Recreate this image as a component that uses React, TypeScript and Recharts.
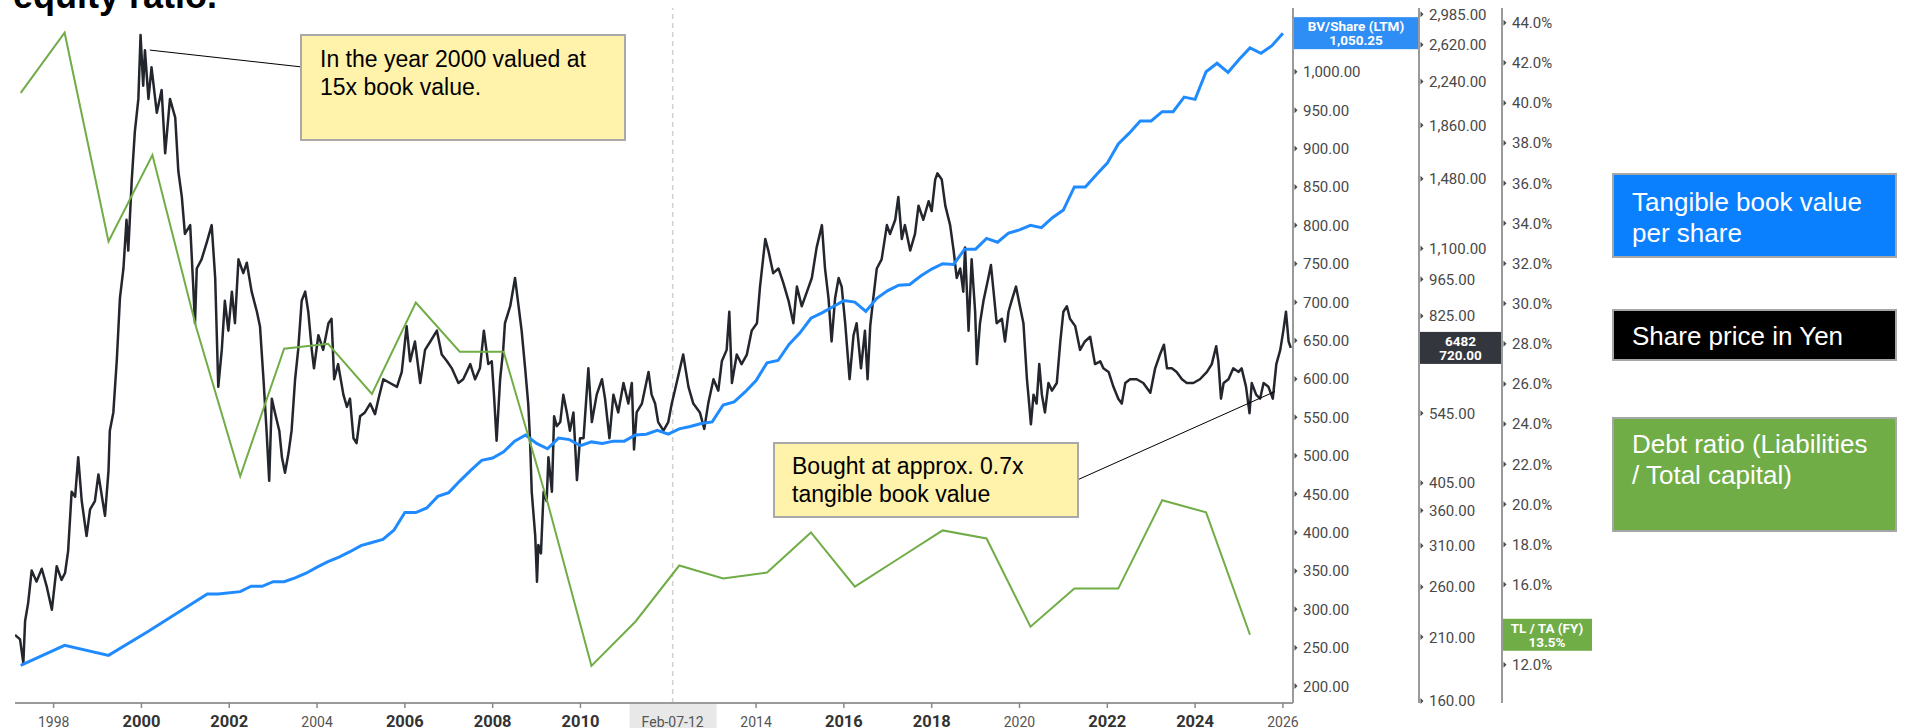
import React from "react";
import {
  ComposedChart,
  Line,
  XAxis,
  YAxis,
  ReferenceLine,
} from "recharts";

// share price in yen, [decimal year, price]
const sharePrice: [number, number][] = [
  [1997.12, 212], [1997.235, 208], [1997.31, 188], [1997.35, 225], [1997.42, 243],
  [1997.5, 279], [1997.61, 266], [1997.73, 281], [1997.84, 261], [1997.96, 236],
  [1998.07, 284], [1998.18, 268], [1998.26, 276], [1998.33, 303], [1998.41, 390],
  [1998.49, 382], [1998.56, 452], [1998.64, 375], [1998.75, 323], [1998.83, 362],
  [1998.94, 375], [1999.02, 420], [1999.17, 352], [1999.25, 427], [1999.28, 506],
  [1999.36, 547], [1999.44, 686], [1999.51, 890], [1999.59, 1010], [1999.66, 1243],
  [1999.7, 1090], [1999.78, 1475], [1999.85, 1810], [1999.93, 2080], [1999.98, 2730],
  [2000.04, 2200], [2000.08, 2560], [2000.16, 2080], [2000.23, 2380], [2000.35, 1960],
  [2000.46, 2160], [2000.54, 1650], [2000.65, 2080], [2000.77, 1920], [2000.84, 1530],
  [2000.92, 1370], [2000.99, 1170], [2001.11, 1215], [2001.18, 935], [2001.22, 800],
  [2001.26, 1010], [2001.37, 1050], [2001.49, 1130], [2001.6, 1215], [2001.68, 970],
  [2001.75, 610], [2001.83, 714], [2001.9, 880], [2001.98, 775], [2002.06, 915],
  [2002.13, 800], [2002.21, 1050], [2002.32, 990], [2002.4, 1035], [2002.51, 915],
  [2002.63, 840], [2002.7, 790], [2002.78, 630], [2002.85, 506], [2002.91, 409],
  [2002.97, 580], [2003.04, 547], [2003.14, 506], [2003.2, 452], [2003.27, 423],
  [2003.35, 460], [2003.42, 506], [2003.5, 630], [2003.57, 714], [2003.65, 880],
  [2003.73, 915], [2003.8, 840], [2003.88, 714], [2003.93, 660], [2004.03, 760],
  [2004.14, 714], [2004.26, 800], [2004.33, 815], [2004.39, 630], [2004.48, 672],
  [2004.6, 590], [2004.68, 560], [2004.75, 580], [2004.83, 490], [2004.9, 480],
  [2004.98, 538], [2005.09, 547], [2005.21, 568], [2005.32, 543], [2005.4, 580],
  [2005.51, 630], [2005.66, 620], [2005.82, 610], [2005.93, 650], [2006.04, 790],
  [2006.12, 680], [2006.23, 740], [2006.35, 620], [2006.46, 714], [2006.58, 740],
  [2006.73, 775], [2006.84, 700], [2006.96, 680], [2007.07, 660], [2007.22, 620],
  [2007.33, 630], [2007.49, 672], [2007.6, 630], [2007.71, 660], [2007.8, 775],
  [2007.9, 672], [2007.98, 680], [2008.03, 590], [2008.09, 485], [2008.17, 630],
  [2008.24, 714], [2008.28, 800], [2008.4, 860], [2008.51, 970], [2008.59, 860],
  [2008.66, 775], [2008.74, 660], [2008.81, 568], [2008.85, 490], [2008.89, 390],
  [2008.97, 323], [2009.01, 266], [2009.04, 311], [2009.1, 300], [2009.16, 390],
  [2009.23, 375], [2009.27, 452], [2009.35, 390], [2009.4, 538], [2009.46, 516],
  [2009.54, 525], [2009.61, 590], [2009.69, 547], [2009.76, 506], [2009.84, 547],
  [2009.92, 410], [2009.99, 490], [2010.07, 490], [2010.18, 660], [2010.26, 525],
  [2010.37, 590], [2010.49, 630], [2010.56, 580], [2010.66, 490], [2010.75, 590],
  [2010.86, 547], [2010.98, 620], [2011.09, 568], [2011.17, 620], [2011.22, 467],
  [2011.28, 547], [2011.4, 568], [2011.55, 650], [2011.62, 590], [2011.7, 568],
  [2011.77, 525], [2011.89, 506], [2012.0, 525], [2012.08, 568], [2012.19, 620],
  [2012.34, 700], [2012.46, 610], [2012.57, 568], [2012.72, 547], [2012.82, 510],
  [2012.91, 568], [2013.03, 630], [2013.14, 600], [2013.22, 680], [2013.33, 714],
  [2013.39, 840], [2013.45, 620], [2013.56, 700], [2013.67, 672], [2013.79, 700],
  [2013.9, 775], [2014.02, 800], [2014.09, 935], [2014.21, 1145], [2014.28, 1090],
  [2014.39, 990], [2014.51, 1010], [2014.62, 950], [2014.74, 880], [2014.85, 800],
  [2014.93, 935], [2015.04, 860], [2015.16, 915], [2015.27, 970], [2015.38, 1105],
  [2015.5, 1215], [2015.57, 1010], [2015.65, 890], [2015.72, 740], [2015.8, 890],
  [2015.88, 970], [2015.95, 935], [2016.03, 800], [2016.13, 630], [2016.22, 760],
  [2016.29, 800], [2016.39, 660], [2016.48, 775], [2016.54, 630], [2016.6, 790],
  [2016.67, 890], [2016.75, 1010], [2016.86, 1050], [2016.98, 1215], [2017.05, 1170],
  [2017.17, 1243], [2017.24, 1370], [2017.32, 1145], [2017.39, 1215], [2017.51, 1090],
  [2017.62, 1170], [2017.7, 1320], [2017.81, 1243], [2017.93, 1345], [2018.0, 1290],
  [2018.08, 1475], [2018.13, 1515], [2018.23, 1475], [2018.31, 1320], [2018.42, 1215],
  [2018.5, 1090], [2018.57, 970], [2018.65, 1010], [2018.72, 915], [2018.76, 1105],
  [2018.84, 775], [2018.91, 1050], [2018.99, 840], [2019.03, 672], [2019.1, 800],
  [2019.18, 880], [2019.29, 970], [2019.35, 1025], [2019.41, 915], [2019.48, 800],
  [2019.6, 815], [2019.67, 740], [2019.75, 840], [2019.82, 880], [2019.92, 935],
  [2020.01, 860], [2020.09, 800], [2020.17, 630], [2020.22, 568], [2020.26, 520],
  [2020.32, 590], [2020.39, 568], [2020.45, 672], [2020.51, 590], [2020.58, 547],
  [2020.66, 620], [2020.74, 600], [2020.85, 620], [2020.93, 740], [2021.0, 840],
  [2021.08, 860], [2021.15, 815], [2021.27, 790], [2021.38, 714], [2021.49, 740],
  [2021.61, 755], [2021.72, 672], [2021.84, 680], [2021.91, 660], [2022.03, 650],
  [2022.14, 610], [2022.25, 580], [2022.33, 568], [2022.41, 620], [2022.52, 630],
  [2022.67, 630], [2022.82, 620], [2022.98, 595], [2023.09, 660], [2023.2, 700],
  [2023.29, 730], [2023.36, 660], [2023.47, 660], [2023.58, 650], [2023.7, 630],
  [2023.81, 620], [2023.96, 620], [2024.11, 630], [2024.27, 650], [2024.38, 672],
  [2024.48, 725], [2024.53, 680], [2024.59, 580], [2024.65, 620], [2024.76, 630],
  [2024.87, 660], [2024.99, 650], [2025.06, 660], [2025.16, 610], [2025.24, 545],
  [2025.29, 620], [2025.39, 590], [2025.48, 580], [2025.56, 620], [2025.67, 610],
  [2025.77, 580], [2025.85, 672], [2025.94, 714], [2026.01, 775], [2026.07, 840],
  [2026.13, 740], [2026.18, 720],
];

// tangible book value per share (LTM)
const bookValue: [number, number][] = [
  [1997.25, 227], [1998.25, 253], [1999.25, 240], [2000.15, 271], [2001.5, 320],
  [2001.75, 320], [2002.25, 323], [2002.5, 330], [2002.75, 330], [2003.0, 336],
  [2003.25, 336], [2003.5, 341], [2003.75, 347], [2004.0, 355], [2004.25, 362],
  [2004.5, 368], [2004.75, 375], [2005.0, 383], [2005.25, 387], [2005.5, 391],
  [2005.75, 403], [2006.0, 426], [2006.25, 426], [2006.5, 432], [2006.75, 447],
  [2007.0, 452], [2007.25, 467], [2007.5, 481], [2007.75, 494], [2008.0, 497],
  [2008.25, 505], [2008.5, 519], [2008.75, 527], [2009.0, 516], [2009.25, 509],
  [2009.5, 523], [2009.75, 521], [2010.0, 513], [2010.25, 518], [2010.5, 516],
  [2010.75, 519], [2011.0, 519], [2011.25, 527], [2011.5, 528], [2011.75, 533],
  [2012.0, 528], [2012.25, 535], [2012.5, 538], [2012.75, 542], [2013.0, 544],
  [2013.25, 566], [2013.5, 570], [2013.75, 583], [2014.0, 598], [2014.25, 621],
  [2014.5, 624], [2014.75, 645], [2015.0, 660], [2015.25, 679], [2015.5, 686],
  [2015.75, 694], [2016.0, 702], [2016.25, 700], [2016.5, 688], [2016.75, 705],
  [2017.0, 715], [2017.25, 722], [2017.5, 723], [2017.75, 734], [2018.0, 743],
  [2018.25, 750], [2018.5, 749], [2018.75, 769], [2019.0, 769], [2019.25, 783],
  [2019.5, 778], [2019.75, 790], [2020.0, 794], [2020.25, 800], [2020.5, 797],
  [2020.75, 810], [2021.0, 820], [2021.25, 850], [2021.5, 850], [2021.75, 866],
  [2022.0, 881], [2022.25, 906], [2022.5, 920], [2022.75, 936], [2023.0, 936],
  [2023.25, 948], [2023.5, 948], [2023.75, 967], [2024.0, 964], [2024.25, 1000],
  [2024.5, 1011], [2024.75, 999], [2025.0, 1016], [2025.25, 1031], [2025.5, 1024],
  [2025.75, 1034], [2026.0, 1050.25],
];

// total liabilities / total assets, fiscal years ending March
const debtRatio: [number, number][] = [
  [1997.25, 40.5], [1998.25, 43.5], [1999.25, 33.1], [2000.25, 37.4], [2001.25, 28.8],
  [2002.25, 21.4], [2003.25, 27.75], [2004.25, 28.0], [2005.25, 25.5], [2006.25, 30.05],
  [2007.25, 27.6], [2008.25, 27.6], [2009.25, 20.1], [2010.25, 11.95], [2011.25, 14.15],
  [2012.25, 16.95], [2013.25, 16.3], [2014.25, 16.6], [2015.25, 18.6], [2016.25, 15.9],
  [2017.25, 17.3], [2018.25, 18.7], [2019.25, 18.3], [2020.25, 13.9], [2021.25, 15.8],
  [2022.25, 15.8], [2023.25, 20.2], [2024.25, 19.6], [2025.25, 13.5],
];

const yearTicks = [1998, 2000, 2002, 2004, 2006, 2008, 2010, 2014, 2016, 2018, 2020, 2022, 2024, 2026];
const boldYears = [2000, 2002, 2006, 2008, 2010, 2016, 2018, 2022, 2024];
const bvTicks = [200, 250, 300, 350, 400, 450, 500, 550, 600, 650, 700, 750, 800, 850, 900, 950, 1000];
const priceTicks = [160, 210, 260, 310, 360, 405, 545, 825, 965, 1100, 1480, 1860, 2240, 2620, 2985];
const debtTicks = [12, 16, 18, 20, 22, 24, 26, 28, 30, 32, 34, 36, 38, 40, 42, 44];

const crosshairDate = 2012.1;
const crosshairLabel = "Feb-07-12";
const tickerCode = "6482";

const priceData = sharePrice.map(([t, v]) => ({ t, v }));
const bvData = bookValue.map(([t, v]) => ({ t, v }));
const debtData = debtRatio.map(([t, v]) => ({ t, v }));

const lastPrice = sharePrice[sharePrice.length - 1];
const lastBv = bookValue[bookValue.length - 1];
const lastDebt = debtRatio[debtRatio.length - 1];

const money = (v: number) =>
  v.toLocaleString("en-US", { minimumFractionDigits: 2, maximumFractionDigits: 2 });
const pct = (v: number) => `${v.toFixed(1)}%`;

// axis ids sort in the order the right-hand axes are stacked
const AX_BV = "y1";
const AX_PRICE = "y2";
const AX_DEBT = "y3";

const AXIS_GREY = "#9a9a9a";
const BV_W = 126;
const PRICE_W = 83;
const DEBT_W = 98;

function YearTick(props: any) {
  const { x, y, payload } = props;
  const bold = boldYears.includes(payload.value);
  return (
    <g>
      <line x1={x} x2={x} y1={y} y2={y + 5} stroke="#888" strokeWidth={1.5} />
      <text
        x={x}
        y={y + 24}
        textAnchor="middle"
        fontFamily="Roboto, sans-serif"
        fontSize={bold ? 16.5 : 14}
        fontWeight={bold ? 700 : 400}
        fill={bold ? "#333" : "#555"}
      >
        {payload.value}
      </text>
    </g>
  );
}

const rightTick = (fmt: (v: number) => string) => (props: any) => {
  const { x, y, payload } = props;
  return (
    <g>
      <path d={`M${x + 1.5},${y - 3} L${x + 4.5},${y} L${x + 1.5},${y + 3} Z`} fill="#4a4a4a" />
      <text x={x + 10} y={y} dy="0.36em" fontFamily="Roboto, sans-serif" fontSize={15} fill="#484848">
        {fmt(payload.value)}
      </text>
    </g>
  );
};

// coloured value tag sitting on one of the right-hand axes
function valueTag(offset: number, width: number, fill: string, lines: string[]) {
  return (props: any) => {
    const { viewBox } = props;
    const left = viewBox.x + viewBox.width + offset;
    const cy = viewBox.y;
    return (
      <g>
        <rect x={left} y={cy - 16} width={width} height={32} fill={fill} />
        {lines.map((s, i) => (
          <text
            key={i}
            x={left + width / 2}
            y={cy + (i === 0 ? -7 : 7)}
            dy="0.36em"
            textAnchor="middle"
            fontFamily="Roboto, sans-serif"
            fontWeight={700}
            fontSize={13.5}
            fill="#fff"
          >
            {s}
          </text>
        ))}
      </g>
    );
  };
}

function CrosshairTag(props: any) {
  const { viewBox } = props;
  const x = viewBox.x;
  const bottom = viewBox.y + viewBox.height;
  return (
    <g>
      <rect x={x - 43} y={bottom + 1} width={87} height={30} fill="#e8e8e8" />
      <text x={x} y={bottom + 24} textAnchor="middle" fontFamily="Roboto, sans-serif" fontSize={14} fill="#555">
        {crosshairLabel}
      </text>
    </g>
  );
}

const noteBox: React.CSSProperties = {
  position: "absolute",
  boxSizing: "border-box",
  background: "#fff2ab",
  border: "2px solid #a9a9a9",
  fontFamily: "'Liberation Sans', Arial, sans-serif",
  fontSize: 23,
  lineHeight: "28px",
  color: "#000",
};

const legendBox: React.CSSProperties = {
  position: "absolute",
  left: 1612,
  width: 285,
  boxSizing: "border-box",
  border: "2px solid #a6a6a6",
  paddingLeft: 18,
  fontFamily: "'Liberation Sans', Arial, sans-serif",
  fontSize: 26,
  lineHeight: "31px",
  color: "#fff",
};

export default function App() {
  return (
    <div style={{ position: "fixed", left: 0, top: 0, width: 1906, height: 728, overflow: "hidden", background: "#fff" }}>
      <div
        style={{
          position: "absolute",
          left: 13,
          top: -22,
          fontFamily: "'Liberation Sans', Arial, sans-serif",
          fontWeight: 700,
          fontSize: 36,
          lineHeight: "36px",
          color: "#000",
          whiteSpace: "nowrap",
        }}
      >
        equity ratio.
      </div>

      <div style={{ position: "absolute", left: 0, top: 0 }}>
        <ComposedChart width={1600} height={745} margin={{ top: 8, right: 0, bottom: 0, left: 15 }}>
          <XAxis
            dataKey="t"
            type="number"
            domain={[1997.12, 2026.23]}
            allowDataOverflow
            ticks={yearTicks}
            interval={0}
            tick={<YearTick />}
            tickLine={false}
            tickSize={0}
            tickMargin={0}
            height={42}
            axisLine={{ stroke: AXIS_GREY, strokeWidth: 2 }}
          />
          <YAxis
            yAxisId={AX_BV}
            orientation="right"
            width={BV_W}
            domain={[178, 1083]}
            allowDataOverflow
            ticks={bvTicks}
            interval={0}
            tick={rightTick(money)}
            tickLine={false}
            tickSize={0}
            tickMargin={0}
            axisLine={{ stroke: AXIS_GREY, strokeWidth: 2 }}
          />
          <YAxis
            yAxisId={AX_PRICE}
            orientation="right"
            width={PRICE_W}
            scale="log"
            domain={[158.6, 3064]}
            allowDataOverflow
            ticks={priceTicks}
            interval={0}
            tick={rightTick(money)}
            tickLine={false}
            tickSize={0}
            tickMargin={0}
            axisLine={{ stroke: AXIS_GREY, strokeWidth: 2 }}
          />
          <YAxis
            yAxisId={AX_DEBT}
            orientation="right"
            width={DEBT_W}
            domain={[10.1, 44.73]}
            allowDataOverflow
            ticks={debtTicks}
            interval={0}
            tick={rightTick(pct)}
            tickLine={false}
            tickSize={0}
            tickMargin={0}
            axisLine={{ stroke: AXIS_GREY, strokeWidth: 2 }}
          />

          <ReferenceLine
            x={crosshairDate}
            yAxisId={AX_PRICE}
            stroke="#cfcfcf"
            strokeWidth={1.5}
            strokeDasharray="5 4"
            label={(p: any) => <CrosshairTag {...p} />}
          />

          <Line
            yAxisId={AX_PRICE}
            data={priceData}
            dataKey="v"
            type="linear"
            stroke="#23262d"
            strokeWidth={2.5}
            strokeLinejoin="round"
            dot={false}
            isAnimationActive={false}
          />
          <Line
            yAxisId={AX_BV}
            data={bvData}
            dataKey="v"
            type="linear"
            stroke="#1f8bff"
            strokeWidth={3}
            dot={false}
            isAnimationActive={false}
          />
          <Line
            yAxisId={AX_DEBT}
            data={debtData}
            dataKey="v"
            type="linear"
            stroke="#70ad47"
            strokeWidth={2}
            dot={false}
            isAnimationActive={false}
          />

          {/* leader lines from the notes to the share price */}
          <ReferenceLine
            yAxisId={AX_PRICE}
            segment={[{ x: 2000.19, y: 2561 }, { x: 2003.62, y: 2385 }]}
            stroke="#000"
            strokeWidth={1}
          />
          <ReferenceLine
            yAxisId={AX_PRICE}
            segment={[{ x: 2021.34, y: 411 }, { x: 2025.82, y: 598 }]}
            stroke="#000"
            strokeWidth={1}
          />

          <ReferenceLine
            yAxisId={AX_BV}
            y={lastBv[1]}
            stroke="none"
            label={valueTag(0, BV_W, "#2f8ef5", ["BV/Share (LTM)", money(lastBv[1])])}
          />
          <ReferenceLine
            yAxisId={AX_PRICE}
            y={lastPrice[1]}
            stroke="none"
            label={valueTag(BV_W, PRICE_W, "#33373d", [tickerCode, money(lastPrice[1])])}
          />
          <ReferenceLine
            yAxisId={AX_DEBT}
            y={lastDebt[1]}
            stroke="none"
            label={valueTag(BV_W + PRICE_W, 90, "#70ad47", ["TL / TA (FY)", pct(lastDebt[1])])}
          />
        </ComposedChart>
      </div>

      <div style={{ ...noteBox, left: 300, top: 34, width: 326, height: 107, padding: "9px 0 0 18px" }}>
        In the year 2000 valued at
        <br />
        15x book value.
      </div>
      <div style={{ ...noteBox, left: 773, top: 442, width: 306, height: 76, padding: "8px 0 0 17px" }}>
        Bought at approx. 0.7x
        <br />
        tangible book value
      </div>

      <div style={{ ...legendBox, top: 173, height: 85, paddingTop: 12, background: "#0a80ff" }}>
        Tangible book value
        <br />
        per share
      </div>
      <div style={{ ...legendBox, top: 309, height: 52, paddingTop: 10, background: "#000" }}>
        Share price in Yen
      </div>
      <div style={{ ...legendBox, top: 417, height: 115, paddingTop: 10, background: "#70ad47" }}>
        Debt ratio (Liabilities
        <br />
        / Total capital)
      </div>
    </div>
  );
}
